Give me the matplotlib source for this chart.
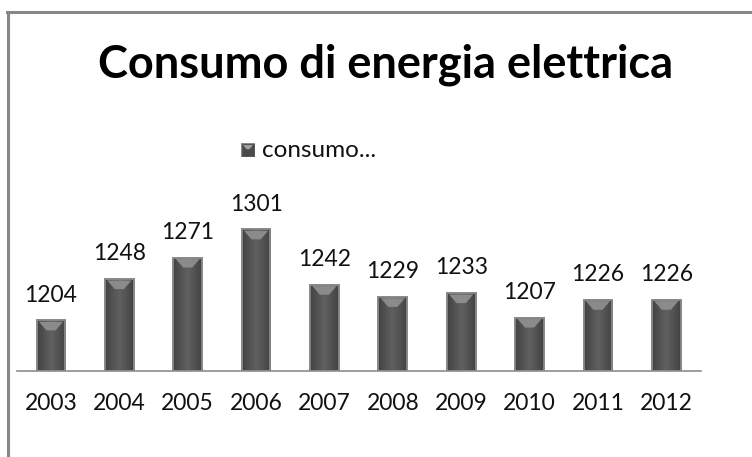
import matplotlib
matplotlib.use("Agg")
import matplotlib.pyplot as plt
from matplotlib.patches import Polygon
from matplotlib.lines import Line2D
import numpy as np

years = ["2003", "2004", "2005", "2006", "2007", "2008", "2009", "2010", "2011", "2012"]
consumo = [1204, 1248, 1271, 1301, 1242, 1229, 1233, 1207, 1226, 1226]
title = "Consumo di energia elettrica"
series_name = "consumo..."

W, H = 752, 457
fig = plt.figure(figsize=(W / 100, H / 100), dpi=100)
FONT = ["Lato", "DejaVu Sans"]

# outer chart frame (left and top visible)
fig.add_artist(Line2D([8 / W, 8 / W], [0, 1 - 12 / H], transform=fig.transFigure,
                      color="#878787", lw=2.2))
fig.add_artist(Line2D([7 / W, 1], [1 - 12 / H, 1 - 12 / H], transform=fig.transFigure,
                      color="#878787", lw=2.2))

ymin, ymax = 1150, 1350
ax_l, ax_r = 16.8, 700.5
ax_b = 371
px_per = 0.938
ax_t = ax_b - (ymax - ymin) * px_per
ax = fig.add_axes([ax_l / W, (H - ax_b) / H, (ax_r - ax_l) / W, (ax_b - ax_t) / H])
ax.set_xlim(-0.5, len(years) - 0.5)
ax.set_ylim(ymin, ymax)

x = np.arange(len(years))
bars = ax.bar(x, [v - ymin for v in consumo], bottom=ymin, width=0.42,
              color="#4a4a4a", edgecolor="#8a8a8a", linewidth=1.3, zorder=2)

# gradient + bevel highlight for each bar
grad = np.linspace(0, 1, 64)
shade = 0.26 + 0.12 * (1 - np.abs(grad - 0.5) * 2)
img = np.tile(shade, (2, 1))
for b in bars:
    x0, w = b.get_x(), b.get_width()
    y0, h = b.get_y(), b.get_height()
    im = ax.imshow(img, cmap="gray", vmin=0, vmax=1, extent=[x0, x0 + w, y0, y0 + h],
                   aspect="auto", zorder=3, interpolation="bilinear")
    im.set_clip_path(b)
    ax.add_patch(plt.Rectangle((x0, y0), w, h, facecolor="none", edgecolor="#8a8a8a",
                               lw=1.3, zorder=3.5))
    top = y0 + h
    d = 10 / px_per
    poly = Polygon([[x0 + 0.08 * w, top - 1.5], [x0 + 0.92 * w, top - 1.5],
                    [x0 + 0.66 * w, top - d], [x0 + 0.34 * w, top - d]],
                   closed=True, facecolor="#8e8e8e", edgecolor="none", alpha=0.95, zorder=4)
    ax.add_patch(poly)
    ax.annotate(f"{int(top)}", (b.get_x() + w / 2, top), xytext=(0, 13.5),
                textcoords="offset points", ha="center", va="baseline",
                fontsize=16.5, family=FONT, color="#111111")

for s in ["left", "right", "top"]:
    ax.spines[s].set_visible(False)
ax.spines["bottom"].set_color("#8c8c8c")
ax.spines["bottom"].set_linewidth(1.2)
ax.spines["bottom"].set_zorder(5)
ax.set_yticks([])
ax.set_xticks(x)
ax.set_xticklabels(years, fontsize=16.5, family=FONT, color="#111111")
ax.tick_params(axis="x", length=0, pad=16)
ax.patch.set_alpha(0)

fig.text(386 / W, 1 - 77 / H, title, ha="center", va="baseline", fontsize=32.5,
         fontweight="bold", family=FONT, color="black")

# legend
lx, ly = 241 / W, 1 - 157 / H
leg = fig.add_axes([lx, ly, 14 / W, 14 / H])
leg.set_axis_off()
leg.add_patch(plt.Rectangle((0, 0), 1, 1, facecolor="#4a4a4a", edgecolor="#8a8a8a", lw=1))
leg.add_patch(Polygon([[0.15, 0.85], [0.85, 0.85], [0.6, 0.55], [0.4, 0.55]],
                      facecolor="#a0a0a0", edgecolor="none"))
leg.set_xlim(0, 1); leg.set_ylim(0, 1)
fig.text(262 / W, 1 - 157 / H, series_name, ha="left", va="baseline", fontsize=17.5,
         family=FONT, color="#111111")

fig.savefig("out.png", dpi=100)
